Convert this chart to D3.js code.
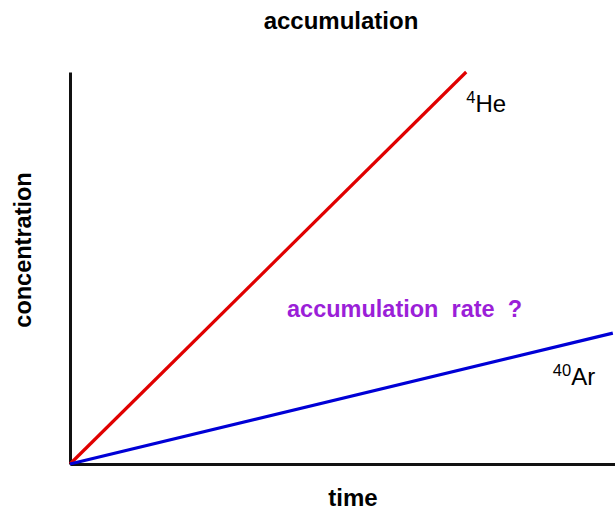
<!DOCTYPE html>
<html>
<head>
<meta charset="utf-8">
<script src="https://cdn.jsdelivr.net/npm/d3@7"></script>
<style>
  html, body { margin: 0; padding: 0; background: #fff; }
  svg { display: block; font-family: "Liberation Sans", Arial, Helvetica, sans-serif; }
</style>
</head>
<body>
<svg id="chart" width="615" height="510"></svg>
<script>
// ---- data ----
const heTime = [0, 7.27];
const heConc = [0, 10];
const arTime = [0, 9.96];
const arConc = [0, 3.34];
const seriesNames = ["He", "Ar"];
const seriesMass = ["4", "40"];
const seriesColors = ["#e00000", "#0000d6"];
const titleText = "accumulation";
const xLabel = "time";
const yLabel = "concentration";
const annotation = "accumulation rate ?";

const W = 615, H = 510;
const margin = {top: 72, right: 0, bottom: 46, left: 70};
const svg = d3.select("#chart");

const x = d3.scaleLinear().domain([0, 10]).range([margin.left, W - margin.right]);
const y = d3.scaleLinear().domain([0, 10]).range([H - margin.bottom, margin.top]);

// axes (no ticks)
const xAxis = svg.append("g").attr("transform", `translate(0,${y(0)})`)
  .call(d3.axisBottom(x).tickValues([]).tickSizeOuter(0));
const yAxis = svg.append("g").attr("transform", `translate(${x(0)},0)`)
  .call(d3.axisLeft(y).tickValues([]).tickSizeOuter(0));
[xAxis, yAxis].forEach(g => g.select(".domain").attr("stroke", "#111").attr("stroke-width", 3));

// lines
const line = d3.line().x(d => x(d[0])).y(d => y(d[1]));
const series = [
  d3.zip(heTime, heConc),
  d3.zip(arTime, arConc)
];
series.forEach((pts, i) => {
  svg.append("path").datum(pts)
    .attr("d", line)
    .attr("fill", "none")
    .attr("stroke", seriesColors[i])
    .attr("stroke-width", 3.2)
    .attr("stroke-linecap", "butt");
});

// series labels
function isoLabel(px, py, mass, name) {
  const t = svg.append("text").attr("x", px).attr("y", py)
    .attr("font-size", 24).attr("fill", "#000");
  t.append("tspan").text(mass).attr("font-size", 16.5).attr("dy", -9);
  t.append("tspan").text(name).attr("dy", 9);
}
isoLabel(x(heTime[1]), y(heConc[1]) + 40, seriesMass[0], seriesNames[0]);
isoLabel(x(arTime[1]) - 60, y(arConc[1]) + 52, seriesMass[1], seriesNames[1]);

// title
svg.append("text").attr("x", 341).attr("y", 29)
  .attr("text-anchor", "middle").attr("font-weight", "bold").attr("font-size", 24)
  .attr("fill", "#000").text(titleText);

// annotation
svg.append("text").attr("x", 287).attr("y", 317)
  .attr("font-weight", "bold").attr("font-size", 23.5)
  .attr("fill", "#9b1fd8").attr("xml:space", "preserve").style("white-space", "pre")
  .text(annotation.replace(/ /g, "  "));

// axis labels
svg.append("text").attr("x", 353).attr("y", 506)
  .attr("text-anchor", "middle").attr("font-weight", "bold").attr("font-size", 24)
  .attr("fill", "#000").text(xLabel);
svg.append("text")
  .attr("transform", `translate(31,250) rotate(-90)`)
  .attr("text-anchor", "middle").attr("font-weight", "bold").attr("font-size", 23.5)
  .attr("fill", "#000").text(yLabel);
</script>
</body>
</html>
